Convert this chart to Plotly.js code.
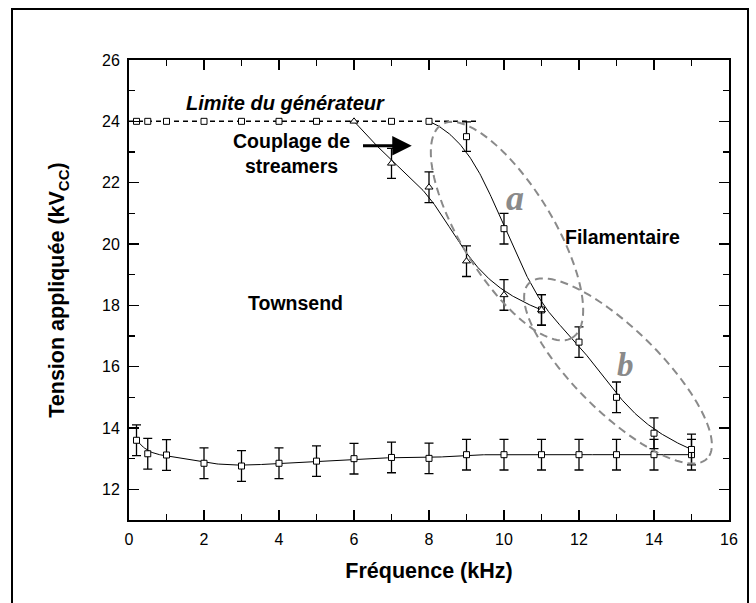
<!DOCTYPE html>
<html><head><meta charset="utf-8">
<script src="https://cdn.plot.ly/plotly-3.0.1.min.js"></script>
<style>html,body{margin:0;padding:0;background:#fff}</style>
</head><body><div id="chart" style="width:756px;height:603px"></div>
<script>
// ---------------- data ----------------
const freqGenerator = [0.2, 0.5, 1, 2, 3, 4, 5, 7, 8];
const voltGenerator = [24, 24, 24, 24, 24, 24, 24, 24, 24];

const freqFilament = [9, 10, 11, 12, 13, 14, 15];
const voltFilament = [23.5, 20.5, 17.85, 16.8, 15.0, 13.83, 13.3];
const errFilament  = [0.48, 0.5, 0.5, 0.5, 0.5, 0.5, 0.5];

const freqCoupling = [6, 7, 8, 9, 10, 11];
const voltCoupling = [24, 22.63, 21.85, 19.44, 18.34, 17.85];
const errCoupling  = [null, 0.49, 0.5, 0.5, 0.5, 0.5];

const freqTownsend = [0.2, 0.5, 1, 2, 3, 4, 5, 6, 7, 8, 9, 10, 11, 12, 13, 14, 15];
const voltTownsend = [13.6, 13.16, 13.12, 12.85, 12.76, 12.85, 12.92, 13.0, 13.04, 13.01, 13.13, 13.13, 13.13, 13.13, 13.13, 13.13, 13.13];
const errTownsend  = [0.5, 0.5, 0.5, 0.5, 0.5, 0.5, 0.5, 0.5, 0.5, 0.5, 0.5, 0.5, 0.5, 0.5, 0.5, 0.5, 0.5];

const generatorLimit = 24;
const limitFreqRange = [0, 9.35];

const xTickVals = [0, 2, 4, 6, 8, 10, 12, 14, 16];
const yTickVals = [12, 14, 16, 18, 20, 22, 24, 26];

// ---------------- helpers ----------------
// clamped cubic B-spline using the measured points as control points
function bspline(xs, ys, steps) {
  const n = xs.length, k = 3;
  const knots = [];
  for (let i = 0; i <= n + k; i++) knots.push(Math.min(Math.max(i - k, 0), n - k));
  const outX = [], outY = [];
  const uMax = n - k;
  for (let si = 0; si <= steps; si++) {
    let u = uMax * si / steps;
    if (u >= uMax) u = uMax - 1e-9;
    let s = k;
    while (s < n - 1 && !(knots[s] <= u && u < knots[s + 1])) s++;
    const dx = [], dy = [];
    for (let j = 0; j <= k; j++) { dx.push(xs[j + s - k]); dy.push(ys[j + s - k]); }
    for (let r = 1; r <= k; r++) {
      for (let j = k; j >= r; j--) {
        const a = (u - knots[j + s - k]) / (knots[j + 1 + s - r] - knots[j + s - k]);
        dx[j] = (1 - a) * dx[j - 1] + a * dx[j];
        dy[j] = (1 - a) * dy[j - 1] + a * dy[j];
      }
    }
    outX.push(dx[k]); outY.push(dy[k]);
  }
  return {x: outX, y: outY};
}

// layout geometry
const M = {l: 129, r: 27, t: 60, b: 83};
const W = 756, H = 603;
const X_RANGE = [0, 16], Y_RANGE = [11, 26];
const pxPerX = (W - M.l - M.r) / (X_RANGE[1] - X_RANGE[0]);
const pxPerY = (H - M.t - M.b) / (Y_RANGE[1] - Y_RANGE[0]);

// rotated ellipse (pixel radii / angle) as an SVG path in data coords
function ellipsePath(cx, cy, a, b, angDeg) {
  const th = angDeg * Math.PI / 180;
  let p = '';
  for (let i = 0; i <= 120; i++) {
    const t = 2 * Math.PI * i / 120;
    const ox = a * Math.cos(t) * Math.cos(th) - b * Math.sin(t) * Math.sin(th);
    const oy = a * Math.cos(t) * Math.sin(th) + b * Math.sin(t) * Math.cos(th);
    const x = cx + ox / pxPerX, y = cy - oy / pxPerY;
    p += (i === 0 ? 'M' : 'L') + x.toFixed(4) + ',' + y.toFixed(4);
  }
  return p + 'Z';
}

const FONT = 'Arial, "Liberation Sans", sans-serif';
const SERIF = '"Times New Roman", "Liberation Serif", serif';
const GREY = '#8a8a8a';

const curveTownsend = bspline(freqTownsend, voltTownsend, 400);
const curveFilament = bspline([freqGenerator[freqGenerator.length - 1]].concat(freqFilament),
                              [voltGenerator[voltGenerator.length - 1]].concat(voltFilament), 300);
const curveCoupling = bspline(freqCoupling, voltCoupling, 300);

const errStyle = (arr) => ({type: 'data', array: arr, visible: true, color: '#000', thickness: 1.3, width: 4.5});

const traces = [
  {x: limitFreqRange, y: [generatorLimit, generatorLimit], mode: 'lines',
   line: {color: '#000', width: 1.5, dash: '5px,4px'}, hoverinfo: 'skip'},
  {x: curveTownsend.x, y: curveTownsend.y, mode: 'lines', line: {color: '#000', width: 1}, hoverinfo: 'skip'},
  {x: curveFilament.x, y: curveFilament.y, mode: 'lines', line: {color: '#000', width: 1}, hoverinfo: 'skip'},
  {x: curveCoupling.x, y: curveCoupling.y, mode: 'lines', line: {color: '#000', width: 1}, hoverinfo: 'skip'},
  {x: freqGenerator, y: voltGenerator, mode: 'markers',
   marker: {symbol: 'square', size: 6, color: '#fff', line: {color: '#000', width: 1}}},
  {x: freqTownsend, y: voltTownsend, mode: 'markers', error_y: errStyle(errTownsend),
   marker: {symbol: 'square', size: 6, color: '#fff', line: {color: '#000', width: 1}}},
  {x: freqFilament, y: voltFilament, mode: 'markers', error_y: errStyle(errFilament),
   marker: {symbol: 'square', size: 6, color: '#fff', line: {color: '#000', width: 1}}},
  {x: freqCoupling, y: voltCoupling, mode: 'markers', error_y: errStyle(errCoupling),
   marker: {symbol: 'triangle-up', size: 7, color: '#fff', line: {color: '#000', width: 1}}}
];

const axisCommon = {
  showline: true, linewidth: 2, linecolor: '#000', mirror: 'ticks',
  ticks: 'inside', ticklen: 10, tickwidth: 1.5, tickcolor: '#000',
  showgrid: false, zeroline: false,
  tickfont: {family: FONT, size: 16, color: '#000'},
  minor: {ticks: 'inside', ticklen: 6, tickwidth: 1.5, tickcolor: '#000', dtick: 1, showgrid: false}
};

const layout = {
  width: W, height: H, margin: M,
  paper_bgcolor: '#fff', plot_bgcolor: '#fff', showlegend: false,
  xaxis: Object.assign({}, axisCommon, {
    range: X_RANGE, tickmode: 'array', tickvals: xTickVals, ticktext: xTickVals.map(String),
    ticklabelstandoff: 4,
    title: {text: 'Fréquence (kHz)', font: {family: FONT, size: 21.5, weight: 'bold', color: '#000'}, standoff: 16}
  }),
  yaxis: Object.assign({}, axisCommon, {
    range: Y_RANGE, tickmode: 'array', tickvals: yTickVals, ticktext: yTickVals.map(String),
    minor: Object.assign({}, axisCommon.minor, {tickmode: 'linear', tick0: 11, dtick: 1}),
    ticklabelstandoff: 4,
    title: {text: 'Tension appliquée (kV<sub>CC</sub>)', font: {family: FONT, size: 21.5, weight: 'bold', color: '#000'}, standoff: 31}
  }),
  shapes: [
    {type: 'rect', xref: 'paper', yref: 'paper',
     x0: (12 - M.l) / (W - M.l - M.r), x1: (748 - M.l) / (W - M.l - M.r),
     y0: (H - M.b - 615) / (H - M.t - M.b), y1: (H - M.b - 9) / (H - M.t - M.b),
     line: {color: '#000', width: 2}, fillcolor: 'rgba(0,0,0,0)'},
    {type: 'path', xref: 'x', yref: 'y', path: ellipsePath(10.08, 20.42, 125, 46, 58.5),
     line: {color: GREY, width: 2, dash: '8px,5px'}},
    {type: 'path', xref: 'x', yref: 'y', path: ellipsePath(13.04, 15.86, 125, 42, 44.5),
     line: {color: GREY, width: 2, dash: '8px,5px'}}
  ],
  annotations: [
    {x: 4.18, y: 24.59, xref: 'x', yref: 'y', showarrow: false, text: 'Limite du générateur',
     font: {family: FONT, size: 20, weight: 'bold', style: 'italic', color: '#000'}},
    {x: 4.34, y: 22.94, xref: 'x', yref: 'y', showarrow: false, text: 'Couplage de<br>streamers',
     font: {family: FONT, size: 19.5, weight: 'bold', color: '#000'}},
    {x: 7.54, y: 23.2, xref: 'x', yref: 'y', ax: 6.2, ay: 23.2, axref: 'x', ayref: 'y',
     text: '', showarrow: true, arrowhead: 2, arrowsize: 1.3, arrowwidth: 3, arrowcolor: '#000'},
    {x: 4.45, y: 18.09, xref: 'x', yref: 'y', showarrow: false, text: 'Townsend',
     font: {family: FONT, size: 19.5, weight: 'bold', color: '#000'}},
    {x: 13.16, y: 20.24, xref: 'x', yref: 'y', showarrow: false, text: 'Filamentaire',
     font: {family: FONT, size: 19.5, weight: 'bold', color: '#000'}},
    {x: 10.29, y: 21.49, xref: 'x', yref: 'y', showarrow: false, text: 'a',
     font: {family: SERIF, size: 36, weight: 'bold', style: 'italic', color: GREY}},
    {x: 13.23, y: 16.05, xref: 'x', yref: 'y', showarrow: false, text: 'b',
     font: {family: SERIF, size: 33, weight: 'bold', style: 'italic', color: GREY}}
  ]
};

Plotly.newPlot('chart', traces, layout, {staticPlot: true, displayModeBar: false});
</script>
</body></html>
